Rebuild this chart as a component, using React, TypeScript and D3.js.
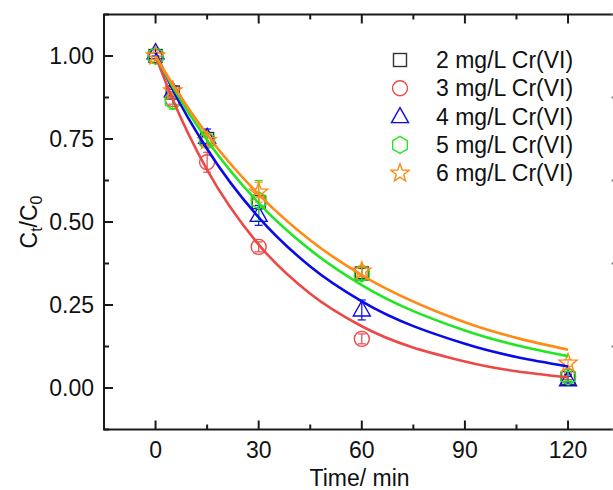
import React from "react";
import * as d3 from "d3";

const times = [0, 5, 15, 30, 60, 120];
const seriesNames = ["2 mg/L Cr(VI)", "3 mg/L Cr(VI)", "4 mg/L Cr(VI)", "5 mg/L Cr(VI)", "6 mg/L Cr(VI)"];
const c2 = [1.0, 0.89, 0.75, 0.56, 0.345, 0.03];
const c3 = [1.0, 0.87, 0.68, 0.425, 0.148, 0.035];
const c4 = [1.01, 0.895, 0.755, 0.52, 0.235, 0.025];
const c5 = [1.0, 0.865, 0.745, 0.565, 0.345, 0.035];
const c6 = [1.0, 0.895, 0.745, 0.59, 0.352, 0.075];
const e2 = [0.01, 0.01, 0.015, 0.02, 0.015, 0.01];
const e3 = [0.01, 0.015, 0.03, 0.015, 0.015, 0.01];
const e4 = [0.01, 0.015, 0.025, 0.03, 0.03, 0.01];
const e5 = [0.01, 0.025, 0.02, 0.06, 0.02, 0.015];
const e6 = [0.01, 0.01, 0.02, 0.03, 0.015, 0.01];

// fitted curves
const fitTimes = [0, 5, 15, 30, 45, 60, 90, 120];
const fit3 = [1.0, 0.869, 0.657, 0.432, 0.284, 0.186, 0.08, 0.032];
const fit4 = [1.01, 0.899, 0.72, 0.514, 0.366, 0.261, 0.133, 0.065];
const fit5 = [1.0, 0.907, 0.746, 0.557, 0.416, 0.31, 0.173, 0.096];
const fit6 = [1.0, 0.914, 0.763, 0.583, 0.445, 0.34, 0.198, 0.115];

const xTicks = [0, 30, 60, 90, 120];
const xMinor = [-15, 15, 45, 75, 105, 135];
const yTicks = [0, 0.25, 0.5, 0.75, 1.0];
const yMinor = [-0.125, 0.125, 0.375, 0.625, 0.875, 1.125];

const colors = ["#333333", "#ec4848", "#0a0ae8", "#22e622", "#ff8a14"];
const shapes = ["square", "circle", "triangle", "hexagon", "star"];

const W = 613, H = 490;
const L = 104, R = 619.6, T = 14.5, B = 429.5;

function Marker({ shape, cx, cy, color }: { shape: string; cx: number; cy: number; color: string }) {
  const sw = 1.4;
  if (shape === "square") return <rect x={cx - 6.5} y={cy - 6.5} width={13} height={13} fill="none" stroke={color} strokeWidth={sw} />;
  if (shape === "circle") return <circle cx={cx} cy={cy} r={7.5} fill="none" stroke={color} strokeWidth={sw} />;
  if (shape === "triangle") {
    const p = [[cx, cy - 9], [cx + 8.5, cy + 6], [cx - 8.5, cy + 6]];
    return <polygon points={p.map((q) => q.join(",")).join(" ")} fill="none" stroke={color} strokeWidth={sw} />;
  }
  if (shape === "hexagon") {
    const r = 8.5;
    const p = d3.range(6).map((i) => {
      const a = (Math.PI / 3) * i - Math.PI / 2;
      return [cx + r * Math.cos(a), cy + r * Math.sin(a)];
    });
    return <polygon points={p.map((q) => q.join(",")).join(" ")} fill="none" stroke={color} strokeWidth={sw} />;
  }
  const p = d3.range(10).map((i) => {
    const r = i % 2 === 0 ? 9.5 : 4;
    const a = (Math.PI / 5) * i - Math.PI / 2;
    return [cx + r * Math.cos(a), cy + r * Math.sin(a)];
  });
  return <polygon points={p.map((q) => q.join(",")).join(" ")} fill="none" stroke={color} strokeWidth={sw} />;
}

export default function App() {
  const x = d3.scaleLinear().domain([-15, 135]).range([L, R]);
  const y = d3.scaleLinear().domain([-0.125, 1.125]).range([B, T]);
  const data = [c2, c3, c4, c5, c6];
  const errs = [e2, e3, e4, e5, e6];
  const fits: [number[], string][] = [
    [fit3, colors[1]],
    [fit4, colors[2]],
    [fit5, colors[3]],
    [fit6, colors[4]],
  ];
  const line = d3
    .line<[number, number]>()
    .x((d) => x(d[0]))
    .y((d) => y(d[1]))
    .curve(d3.curveMonotoneX);
  const axisColor = "#1a1a1a";
  const fs = 23;

  return (
    <svg
      width={W}
      height={H}
      style={{ position: "absolute", left: 0, top: 0, background: "#fff", fontFamily: "Liberation Sans, Arial, sans-serif" }}
    >
      <rect x={0} y={0} width={W} height={H} fill="#fff" />
      {/* data points and error bars */}
      {data.map((vals, si) => (
        <g key={"s" + si}>
          {vals.map((v, i) => {
            const cx = x(times[i]);
            const cy = y(v);
            const e = errs[si][i];
            return (
              <g key={i}>
                <line x1={cx} x2={cx} y1={y(v - e)} y2={y(v + e)} stroke={colors[si]} strokeWidth={1.2} />
                <line x1={cx - 4} x2={cx + 4} y1={y(v - e)} y2={y(v - e)} stroke={colors[si]} strokeWidth={1.2} />
                <line x1={cx - 4} x2={cx + 4} y1={y(v + e)} y2={y(v + e)} stroke={colors[si]} strokeWidth={1.2} />
                <Marker shape={shapes[si]} cx={cx} cy={cy} color={colors[si]} />
              </g>
            );
          })}
        </g>
      ))}
      {/* fitted curves */}
      {fits.map(([vals, c], i) => (
        <path
          key={"f" + i}
          d={line(fitTimes.map((t, j) => [t, vals[j]] as [number, number])) || ""}
          fill="none"
          stroke={c}
          strokeWidth={2.6}
        />
      ))}
      {/* frame */}
      <rect x={L} y={T} width={R - L} height={B - T} fill="none" stroke={axisColor} strokeWidth={2} />
      {/* x ticks */}
      {xTicks.map((t) => (
        <g key={"xt" + t}>
          <line x1={x(t)} x2={x(t)} y1={B} y2={B - 9} stroke={axisColor} strokeWidth={2} />
          <line x1={x(t)} x2={x(t)} y1={T} y2={T + 9} stroke={axisColor} strokeWidth={2} />
          <text x={x(t)} y={B + 28} textAnchor="middle" fontSize={fs} fill="#111">
            {t}
          </text>
        </g>
      ))}
      {xMinor.map((t) => (
        <g key={"xm" + t}>
          <line x1={x(t)} x2={x(t)} y1={B} y2={B - 5} stroke={axisColor} strokeWidth={2} />
          <line x1={x(t)} x2={x(t)} y1={T} y2={T + 5} stroke={axisColor} strokeWidth={2} />
        </g>
      ))}
      {/* y ticks */}
      {yTicks.map((v) => (
        <g key={"yt" + v}>
          <line x1={L} x2={L + 9} y1={y(v)} y2={y(v)} stroke={axisColor} strokeWidth={2} />
          <line x1={R} x2={R - 5} y1={y(v)} y2={y(v)} stroke={axisColor} strokeWidth={2} />
          <text x={L - 10} y={y(v) + 8} textAnchor="end" fontSize={fs} fill="#111">
            {d3.format(".2f")(v)}
          </text>
        </g>
      ))}
      {yMinor.map((v) => (
        <g key={"ym" + v}>
          <line x1={L} x2={L + 5} y1={y(v)} y2={y(v)} stroke={axisColor} strokeWidth={2} />
          <line x1={R} x2={R - 8} y1={y(v)} y2={y(v)} stroke="#777" strokeWidth={2} />
        </g>
      ))}
      {/* axis titles */}
      <text x={(L + 613) / 2 + 1} y={486} textAnchor="middle" fontSize={fs} fill="#111">
        Time/ min
      </text>
      <text transform={`translate(37,${(T + B) / 2}) rotate(-90)`} textAnchor="middle" fontSize={fs} fill="#111">
        C<tspan fontSize={16} dy={5}>t</tspan>
        <tspan dy={-5}>/C</tspan>
        <tspan fontSize={16} dy={5}>0</tspan>
      </text>
      {/* legend */}
      {seriesNames.map((n, i) => {
        const ly = 60 + i * 28.3;
        return (
          <g key={"lg" + i}>
            <Marker shape={shapes[i]} cx={400} cy={ly} color={colors[i]} />
            <text x={436} y={ly + 8} fontSize={fs} fill="#111">
              {n}
            </text>
          </g>
        );
      })}
    </svg>
  );
}
